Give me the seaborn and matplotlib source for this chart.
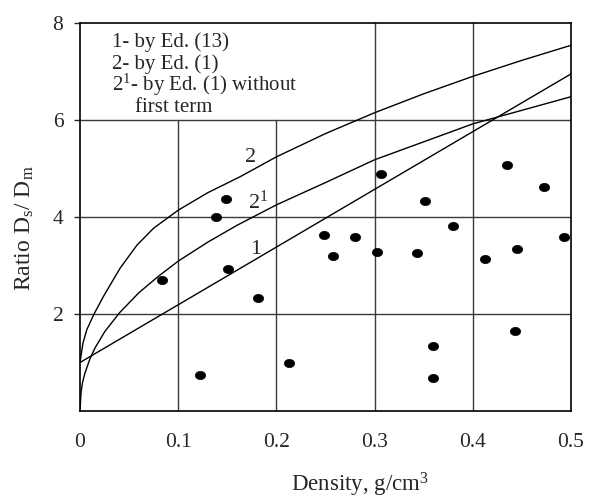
import numpy as np
import pandas as pd
import matplotlib
matplotlib.use("Agg")
import matplotlib.pyplot as plt
import matplotlib.transforms as mt
from matplotlib.path import Path
import seaborn as sns

# ---- data ----
density = [0.083, 0.122, 0.139, 0.149, 0.151, 0.181, 0.213, 0.248, 0.258, 0.280,
           0.302, 0.307, 0.3435, 0.351, 0.359, 0.359, 0.380, 0.412, 0.435, 0.4425,
           0.4446, 0.4724, 0.493]
ratio = [2.70, 0.74, 4.00, 4.37, 2.93, 2.32, 1.00, 3.63, 3.20, 3.59,
         3.28, 4.89, 3.25, 4.32, 1.35, 0.69, 3.81, 3.13, 5.07, 1.64,
         3.33, 4.62, 3.59]

curve1_x = [0.0, 0.5]
curve1_y = [1.0, 6.95]

curve2_x = [0.0, 0.003, 0.007, 0.0143, 0.0238, 0.041, 0.058, 0.075, 0.1, 0.13,
            0.163, 0.2, 0.25, 0.3, 0.35, 0.4, 0.45, 0.5]
curve2_y = [1.0, 1.4, 1.68, 2.0, 2.36, 2.95, 3.42, 3.77, 4.14, 4.5,
            4.83, 5.24, 5.72, 6.15, 6.54, 6.9, 7.23, 7.54]

curve21_x = [0.0, 0.001, 0.0025, 0.005, 0.01, 0.015, 0.025, 0.04, 0.06, 0.08, 0.1,
             0.13, 0.16, 0.2, 0.25, 0.3, 0.35, 0.4, 0.45, 0.5]
curve21_y = [0.0, 0.37, 0.58, 0.78, 1.07, 1.29, 1.63, 2.02, 2.44, 2.78, 3.09,
             3.48, 3.83, 4.25, 4.71, 5.18, 5.55, 5.92, 6.2, 6.48]

x_ticks = [0, 0.1, 0.2, 0.3, 0.4, 0.5]
x_tick_labels = ["0", "0.1", "0.2", "0.3", "0.4", "0.5"]
y_ticks = [2, 4, 6, 8]
y_tick_labels = ["2", "4", "6", "8"]

legend_lines = ["1- by Ed. (13)", "2- by Ed. (1)", "2$^{1}$- by Ed. (1) without", "first term"]
curve_labels = ["2", "2$^{1}$", "1"]

# ---- style ----
sns.set_style("white")
plt.rcParams["font.family"] = ["Liberation Serif", "DejaVu Serif"]
plt.rcParams["mathtext.fontset"] = "custom"
plt.rcParams["mathtext.rm"] = "Liberation Serif"
plt.rcParams["mathtext.it"] = "Liberation Serif"
plt.rcParams["mathtext.bf"] = "Liberation Serif"

fig = plt.figure(figsize=(5.91, 5.0), dpi=100)
ax = fig.add_axes([80 / 591, 89 / 500, 491 / 591, 388 / 500])

ax.set_xlim(0, 0.5)
ax.set_ylim(0, 8)

# grid lines
grid_kw = dict(color="#3a3a3a", lw=1.0, zorder=1)
for yv in [2, 4, 6]:
    ax.axhline(yv, **grid_kw)
for xv in [0.1, 0.2]:
    ax.axvline(xv, ymin=0, ymax=6 / 8, **grid_kw)
for xv in [0.3, 0.4]:
    ax.axvline(xv, **grid_kw)

# curves
lk = dict(ax=ax, color="black", lw=1.0, sort=False, estimator=None, legend=False, zorder=3)
sns.lineplot(x=curve1_x, y=curve1_y, **lk)
sns.lineplot(x=curve2_x, y=curve2_y, **lk)
sns.lineplot(x=curve21_x, y=curve21_y, **lk)

# points (ellipse marker)
ell = Path.unit_circle().transformed(mt.Affine2D().scale(1.25, 1.0))
df = pd.DataFrame({"density": density, "ratio": ratio})
sns.scatterplot(data=df, x="density", y="ratio", ax=ax, marker=ell, s=55,
                color="black", edgecolor="black", linewidth=0.5, zorder=4, legend=False)

# spines
for sp in ax.spines.values():
    sp.set_color("black")
    sp.set_linewidth(1.2)
    sp.set_visible(True)

ax.set_xticks(x_ticks)
ax.set_xticklabels(x_tick_labels)
ax.set_yticks(y_ticks)
ax.set_yticklabels(y_tick_labels)
ax.tick_params(axis="x", length=0, pad=16, labelsize=15.5)
ax.tick_params(axis="y", length=4, width=1, direction="out", pad=8, labelsize=15.5, left=True)

ax.set_xlabel("Density, g/cm$^3$", fontsize=16.5)
ax.xaxis.label.set_va("baseline")
ax.xaxis.set_label_coords(0.570, -0.207)
ax.set_ylabel("Ratio D$_\\mathrm{s}$/ D$_\\mathrm{m}$", fontsize=17)
ax.yaxis.label.set_va("center")
ax.yaxis.set_label_coords(-0.112, 0.472)

# legend text block
leg_y = [7.50, 7.05, 6.60, 6.17]
leg_x = [0.0327, 0.0327, 0.0327, 0.0561]
for tx, xx, yy in zip(legend_lines, leg_x, leg_y):
    ax.text(xx, yy, tx, fontsize=15, ha="left", va="baseline", zorder=5)

# curve labels
lab_x = [0.168, 0.171, 0.1735]
lab_y = [5.13, 4.16, 3.24]
for tx, xx, yy in zip(curve_labels, lab_x, lab_y):
    ax.text(xx, yy, tx, fontsize=16, ha="left", va="baseline", zorder=5)

fig.savefig("out.png", dpi=100)
